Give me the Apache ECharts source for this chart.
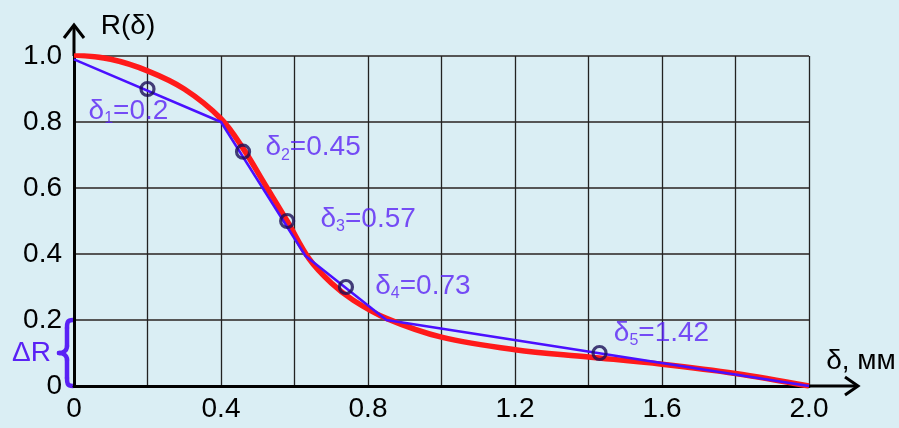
<!DOCTYPE html>
<html><head><meta charset="utf-8">
<script src="https://cdn.jsdelivr.net/npm/echarts@6/dist/echarts.min.js"></script>
<style>html,body{margin:0;padding:0;background:#daeef4;}#c{width:899px;height:428px;}</style>
</head><body><div id="c"></div>
<script>
// ---- data ----
const xTickLabels = ['0','','0.4','','0.8','','1.2','','1.6','','2.0'];
const yTickLabels = ['0','0.2','0.4','0.6','0.8','1.0'];
const redX = [0, 0.1, 0.2, 0.3, 0.4, 0.46, 0.52, 0.58, 0.64, 0.7, 0.76, 0.85, 1.0, 1.2, 1.4, 1.6, 1.8, 2.0];
const redY = [1.003, 0.99, 0.955, 0.9, 0.81, 0.72, 0.61, 0.5, 0.385, 0.312, 0.26, 0.205, 0.148, 0.11, 0.088, 0.066, 0.038, 0.0];
const blueX = [0, 0.4, 0.63, 0.85, 2.0];
const blueY = [0.99, 0.8, 0.394, 0.2, 0.0];
const ptX = [0.2, 0.46, 0.58, 0.74, 1.43];
const ptY = [0.9, 0.71, 0.5, 0.3, 0.1];
const ptSub = ['1','2','3','4','5'];
const ptVal = ['0.2','0.45','0.57','0.73','1.42'];
const deltaRRange = [0, 0.2];

// ---- styles ----
const FONT = 'Liberation Sans, Arial, sans-serif';
const PURPLE = '#5a22f5';
const labelOffsets = [[-19,22],[70,-4],[81,-2],[77,-1],[62,-20]];
const FS = 28;

const chart = echarts.init(document.getElementById('c'));
const option = {
  backgroundColor: '#daeef4',
  animation: false,
  grid: {left: 74, right: 90, top: 56, bottom: 42},
  xAxis: {
    type: 'value', min: 0, max: 2.0, interval: 0.2,
    axisLine: {show: true, lineStyle: {color: '#000', width: 3}},
    axisTick: {show: false},
    axisLabel: {color: '#000', fontSize: FS, fontFamily: FONT, margin: 9,
      formatter: (v) => xTickLabels[Math.round(v / 0.2)] || ''},
    splitLine: {show: true, lineStyle: {color: '#222', width: 1.3}}
  },
  yAxis: {
    type: 'value', min: 0, max: 1.0, interval: 0.2,
    axisLine: {show: true, lineStyle: {color: '#000', width: 3}},
    axisTick: {show: false},
    axisLabel: {color: '#000', fontSize: FS, fontFamily: FONT, margin: 12,
      formatter: (v) => yTickLabels[Math.round(v / 0.2)] || ''},
    splitLine: {show: true, lineStyle: {color: '#555', width: 1.8}}
  },
  series: [
    {type: 'line', data: redX.map((x, i) => [x, redY[i]]), smooth: 0.35, showSymbol: false,
     lineStyle: {color: '#ff1a1a', width: 5.5}, z: 2},
    {type: 'line', data: blueX.map((x, i) => [x, blueY[i]]), showSymbol: false,
     lineStyle: {color: '#4a10ff', width: 2.5}, z: 3},
    {type: 'scatter', symbol: 'circle', symbolSize: 13, z: 4,
     itemStyle: {color: 'rgba(0,0,0,0)', borderColor: '#1a0e58', borderWidth: 3.2},
     data: ptX.map((x, i) => ({
       value: [x, ptY[i]],
       label: {show: true, position: 'inside', offset: labelOffsets[i],
         formatter: '{a|δ}{s|' + ptSub[i] + '}{a|=' + ptVal[i] + '}',
         rich: {
           a: {fontSize: FS, fontFamily: FONT, color: PURPLE, lineHeight: 32},
           s: {fontSize: 16, fontFamily: FONT, color: PURPLE, lineHeight: 11, verticalAlign: 'bottom'}
         }}
     }))}
  ]
};
chart.setOption(option);

const p0 = chart.convertToPixel({gridIndex: 0}, [0, 0]);
const pTop = chart.convertToPixel({gridIndex: 0}, [0, 1.0]);
const pRight = chart.convertToPixel({gridIndex: 0}, [2.0, 0]);
const pR0 = chart.convertToPixel({gridIndex: 0}, [0, deltaRRange[0]]);
const pR1 = chart.convertToPixel({gridIndex: 0}, [0, deltaRRange[1]]);

const ax = p0[0], yTip = pTop[1] - 31;
const xTip = pRight[0] + 49, ay = p0[1];
const T = pR1[1], B = pR0[1], M = (T + B) / 2;
const xR = ax - 1, xI = ax - 7, xT = ax - 15;
const braceStyle = {stroke: PURPLE, lineWidth: 4.5, fill: null, lineCap: 'round'};

chart.setOption({graphic: [
  {type: 'line', shape: {x1: ax, y1: pTop[1], x2: ax, y2: yTip + 1}, style: {stroke: '#000', lineWidth: 3}},
  {type: 'polyline', shape: {points: [[ax - 10, yTip + 13], [ax, yTip], [ax + 10, yTip + 13]]}, style: {stroke: '#000', lineWidth: 3, fill: null}},
  {type: 'line', shape: {x1: pRight[0], y1: ay, x2: xTip - 1, y2: ay}, style: {stroke: '#000', lineWidth: 3}},
  {type: 'polyline', shape: {points: [[xTip - 13, ay - 9], [xTip, ay], [xTip - 13, ay + 9]]}, style: {stroke: '#000', lineWidth: 3, fill: null}},
  // brace
  {type: 'bezierCurve', shape: {x1: xR, y1: T, cpx1: xI, cpy1: T, cpx2: xI, cpy2: T + 3, x2: xI, y2: T + 8}, style: braceStyle},
  {type: 'line', shape: {x1: xI, y1: T + 8, x2: xI, y2: M - 7}, style: braceStyle},
  {type: 'bezierCurve', shape: {x1: xI, y1: M - 7, cpx1: xI, cpy1: M - 1, cpx2: xT + 2, cpy2: M, x2: xT, y2: M}, style: braceStyle},
  {type: 'bezierCurve', shape: {x1: xT, y1: M, cpx1: xT + 2, cpy1: M, cpx2: xI, cpy2: M + 1, x2: xI, y2: M + 7}, style: braceStyle},
  {type: 'line', shape: {x1: xI, y1: M + 7, x2: xI, y2: B - 8}, style: braceStyle},
  {type: 'bezierCurve', shape: {x1: xI, y1: B - 8, cpx1: xI, cpy1: B - 3, cpx2: xI, cpy2: B, x2: xR, y2: B}, style: braceStyle},
  {type: 'text', x: xT - 8, y: M, style: {text: 'ΔR', fill: PURPLE, font: FS + 'px ' + FONT, textAlign: 'right', textVerticalAlign: 'middle'}},
  {type: 'text', x: ax + 54, y: yTip + 1, style: {text: 'R(δ)', fill: '#000', font: FS + 'px ' + FONT, textAlign: 'center', textVerticalAlign: 'middle'}},
  {type: 'text', x: xTip + 3, y: ay - 25, style: {text: 'δ, мм', fill: '#000', font: FS + 'px ' + FONT, textAlign: 'center', textVerticalAlign: 'middle'}}
]});
</script></body></html>
